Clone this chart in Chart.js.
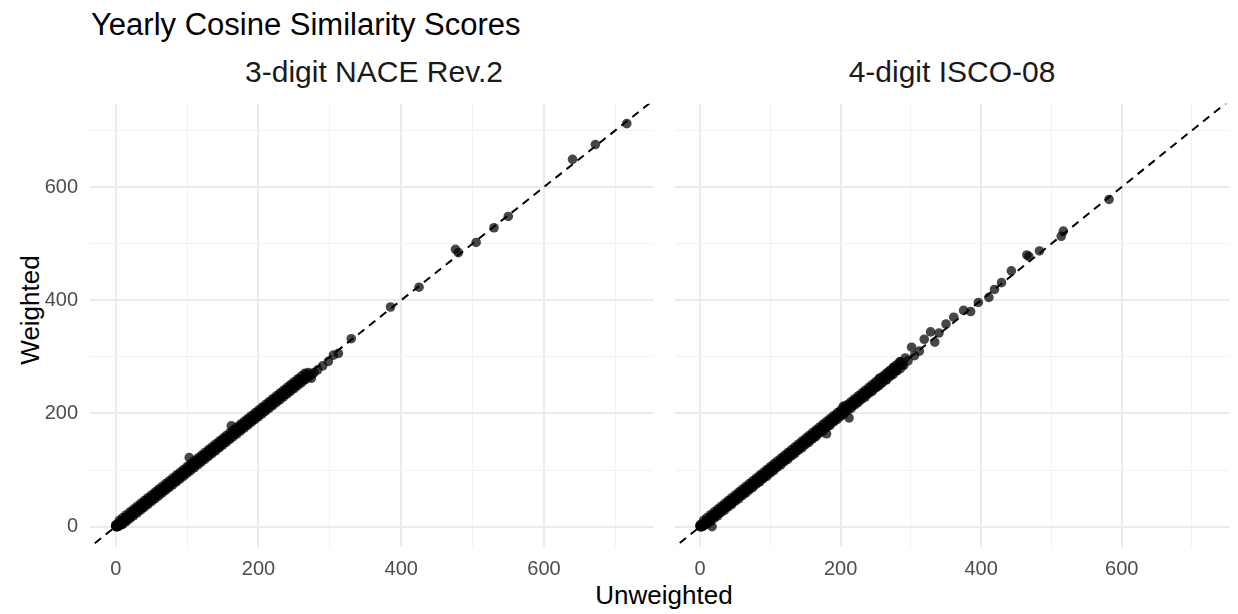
<!DOCTYPE html>
<html lang="en">
<head>
    <meta charset="UTF-8">
    <title>Yearly Cosine Similarity Scores</title>
    <script src="https://cdn.jsdelivr.net/npm/chart.js"></script>
    <style>
        body { margin: 0; width: 1238px; height: 614px; position: relative; background: #fff; font-family: "Liberation Sans", Arial, sans-serif; overflow: hidden; }
        .txt { position: absolute; white-space: nowrap; line-height: 1; }
        #title { left: 91px; top: 9px; font-size: 31px; color: #000; }
        .strip { top: 57px; font-size: 30px; color: #1a1a1a; transform: translateX(-50%); }
        #xlab { left: 664px; top: 582px; font-size: 26px; color: #000; transform: translateX(-50%); }
        #ylab { left: 30px; top: 310px; font-size: 26px; color: #000; transform: translate(-50%, -50%) rotate(-90deg); }
        canvas { position: absolute; }
    </style>
</head>
<body>
    <div id="title" class="txt">Yearly Cosine Similarity Scores</div>
    <div id="strip0" class="txt strip" style="left:374px">3-digit NACE Rev.2</div>
    <div id="strip1" class="txt strip" style="left:952px">4-digit ISCO-08</div>
    <div id="xlab" class="txt">Unweighted</div>
    <div id="ylab" class="txt">Weighted</div>
    <canvas id="naceChart" width="658" height="488" style="left:0px; top:99px"></canvas>
    <canvas id="iscoChart" width="564" height="488" style="left:670px; top:99px"></canvas>

    <script>
        // facet titles and tick labels
        const panelTitles = ['3-digit NACE Rev.2', '4-digit ISCO-08'];
        const tickValues = [0, 200, 400, 600];

        // 3-digit NACE Rev.2: unweighted (x) vs weighted (y)
        const naceUnweighted = [0,1,2,0,3,5,2,4,6,8,7,10,12,
            0,1,2,3,4,5,6,7,8,9,10,11,12,13,14,15,16,18,20,21,22,24,25,27,28,30,31,33,35,36,38,40,42,44,45,47,49,51,53,55,56,58,60,62,64,66,68,70,72,74,76,78,80,82,84,86,88,90,92,94,96,98,100,
            102,103,104,106,108,110,112,114,116,118,120,122,124,126,128,130,132,134,136,138,140,142,144,146,148,150,152,154,156,158,160,162,163,165,167,169,171,173,175,177,179,181,183,185,187,189,191,193,195,197,199,
            201,203,205,207,209,211,213,215,217,219,221,223,225,227,229,231,233,235,237,239,241,243,245,247,249,251,253,256,258,261,264,267,270,274,278,283,
            5,10,15,20,25,30,35,40,45,50,55,60,65,70,75,80,85,90,95,100,105,110,115,120,125,130,135,140,145,150,155,160,165,170,175,180,185,190,195,200,205,210,215,220,225,230,235,240,245,250,255,260,265,270,275,
            10,15,20,25,30,35,40,45,50,55,60,65,70,75,80,85,90,95,100,105,110,115,120,125,130,135,140,145,150,155,160,165,170,175,180,185,190,195,200,205,210,215,220,225,230,235,240,245,250,255,260,265,270,
            290,298,305,312,330,385,425,476,480,505,530,550,640,672,716];
        const naceWeighted = [1,0,2,3,0,2,4,4,6,8,4,10,12,
            0,2,0,3,1,6,3,8,5,10,7,12,9,14,11,17,13,19,17,23,19,26,22,29,25,32,28,35,32,38,35,42,39,46,42,50,46,53,50,58,53,60,57,65,61,68,65,72,69,77,73,80,77,84,81,89,85,92,89,97,93,100,97,
            105,122,101,109,105,112,109,117,113,120,117,125,121,128,125,133,129,136,133,141,137,144,141,149,145,152,149,157,153,160,157,178,165,162,170,166,173,170,178,174,181,178,186,182,189,186,194,190,197,194,202,
            198,205,202,210,206,213,210,218,214,221,218,226,222,229,226,234,230,237,234,242,238,245,242,250,246,253,250,259,255,262,260,269,266,262,272,277,
            11,4,21,14,31,24,41,34,51,44,61,54,71,64,81,74,91,84,101,94,111,104,121,114,131,124,141,134,151,144,161,154,171,164,181,174,191,184,201,194,211,204,221,214,231,224,241,234,251,244,261,254,271,264,269,
            16,9,26,19,36,29,46,39,56,49,66,59,76,69,86,79,96,89,106,99,116,109,126,119,136,129,146,139,156,149,166,159,176,169,186,179,196,189,206,199,216,209,226,219,236,229,246,239,256,249,266,259,272,
            284,292,303,306,332,388,423,490,484,502,528,548,649,675,712];

        // 4-digit ISCO-08: unweighted (x) vs weighted (y)
        const iscoUnweighted = [0,1,2,0,3,5,2,4,6,
            0,1,2,3,4,5,6,7,8,9,10,12,13,15,17,16,18,20,22,23,25,27,29,30,32,34,36,38,40,41,43,45,47,49,51,52,54,56,58,60,62,64,66,68,70,72,74,76,78,80,82,84,86,88,90,92,94,96,98,100,
            102,104,106,108,110,112,114,116,118,120,122,124,126,128,130,132,134,136,138,140,142,144,146,148,150,152,154,156,158,160,162,164,166,168,170,172,174,176,178,180,182,184,186,188,190,192,194,196,198,
            200,202,204,206,208,210,212,214,216,218,220,222,224,226,228,230,232,234,236,238,240,243,246,249,252,255,258,262,265,268,272,276,280,284,288,292,296,
            5,10,15,20,25,30,35,40,45,50,55,60,65,70,75,80,85,90,95,100,105,110,115,120,125,130,135,140,145,150,155,160,165,170,175,180,185,190,195,200,205,210,215,220,225,230,235,240,245,250,255,260,265,270,275,280,285,290,
            10,15,20,25,30,35,40,45,50,55,60,65,70,75,80,85,90,95,100,105,110,115,120,125,130,135,140,145,150,155,160,165,170,175,180,185,190,195,200,205,210,215,220,225,230,235,240,245,250,255,260,265,270,275,280,285,
            301,305,312,319,328,334,340,350,361,375,385,396,411,419,429,443,465,468,483,514,517,582];
        const iscoWeighted = [1,0,2,3,0,2,4,4,6,
            0,2,0,3,1,6,3,8,5,10,7,13,10,17,0,13,20,17,24,20,27,24,31,27,34,31,38,35,42,38,46,42,49,46,53,50,57,53,61,57,64,61,69,65,72,69,76,73,81,77,84,81,89,85,92,89,96,93,101,97,
            104,101,109,105,112,109,116,113,121,117,124,121,129,125,132,129,136,133,141,137,144,141,149,145,152,149,156,153,161,157,164,161,169,165,172,169,177,173,180,164,178,187,183,190,187,195,191,198,195,
            203,199,213,208,205,213,192,216,213,221,217,224,221,229,225,232,229,237,233,240,237,246,242,252,248,262,254,265,260,273,268,282,276,291,286,298,293,
            11,5,21,15,31,25,41,35,51,45,61,55,71,65,81,75,91,85,101,95,111,105,121,115,131,125,141,135,151,145,161,155,171,165,181,175,191,185,201,195,211,205,221,215,231,225,241,235,251,245,261,255,271,265,281,275,291,285,
            16,9,26,19,36,29,46,39,56,49,66,59,76,69,86,79,96,89,106,99,116,109,126,119,136,129,146,139,156,149,166,159,176,169,186,179,196,189,206,199,216,209,226,219,236,229,246,239,256,249,266,259,276,269,286,279,
            317,302,310,331,344,326,342,358,370,382,380,396,405,419,431,452,480,477,487,513,522,578];

        const X_MIN = -36, X_MAX = 753, Y_MIN = -36, Y_MAX = 747;

        function toPoints(xs, ys) {
            return xs.map((x, i) => ({ x: x, y: ys[i] }));
        }

        function gridColor(ctx) {
            const v = ctx.tick ? ctx.tick.value : 0;
            return v % 200 === 0 ? '#ebebeb' : '#f2f2f2';
        }
        function gridWidth(ctx) {
            const v = ctx.tick ? ctx.tick.value : 0;
            return v % 200 === 0 ? 2 : 1;
        }
        // drop the automatic label padding so both panels share the same plot area
        function noPadding(s) {
            s.paddingTop = 0; s.paddingBottom = 0; s.paddingLeft = 0; s.paddingRight = 0;
        }

        function drawPanel(canvasId, xs, ys, showY) {
            const ctx = document.getElementById(canvasId).getContext('2d');
            return new Chart(ctx, {
                type: 'scatter',
                data: {
                    datasets: [{
                        type: 'line',
                        data: [{ x: -60, y: -60 }, { x: 800, y: 800 }],
                        borderColor: '#000',
                        borderWidth: 2,
                        borderDash: [8, 6],
                        pointRadius: 0,
                        fill: false,
                        order: 0
                    }, {
                        data: toPoints(xs, ys),
                        backgroundColor: 'rgba(0,0,0,0.72)',
                        borderWidth: 0,
                        pointRadius: 4.8,
                        order: 1
                    }]
                },
                options: {
                    responsive: false,
                    animation: false,
                    devicePixelRatio: 1,
                    layout: { padding: 0 },
                    plugins: { legend: { display: false }, tooltip: { enabled: false } },
                    scales: {
                        x: {
                            type: 'linear',
                            min: X_MIN, max: X_MAX,
                            afterFit: s => { s.height = 40; noPadding(s); },
                            border: { display: false },
                            grid: { color: gridColor, lineWidth: gridWidth, drawTicks: false },
                            ticks: {
                                stepSize: 100,
                                includeBounds: false,
                                autoSkip: false,
                                maxRotation: 0,
                                padding: 10,
                                color: '#4d4d4d',
                                font: { family: 'Liberation Sans', size: 20 },
                                callback: v => tickValues.includes(v) ? String(v) : ''
                            }
                        },
                        y: {
                            type: 'linear',
                            min: Y_MIN, max: Y_MAX,
                            afterFit: s => { s.width = showY ? 90 : 0; noPadding(s); },
                            border: { display: false },
                            grid: { color: gridColor, lineWidth: gridWidth, drawTicks: false },
                            ticks: {
                                display: showY,
                                stepSize: 100,
                                includeBounds: false,
                                autoSkip: false,
                                padding: 12,
                                color: '#4d4d4d',
                                font: { family: 'Liberation Sans', size: 20 },
                                callback: v => tickValues.includes(v) ? String(v) : ''
                            }
                        }
                    }
                }
            });
        }

        drawPanel('naceChart', naceUnweighted, naceWeighted, true);
        drawPanel('iscoChart', iscoUnweighted, iscoWeighted, false);
    </script>
</body>
</html>
